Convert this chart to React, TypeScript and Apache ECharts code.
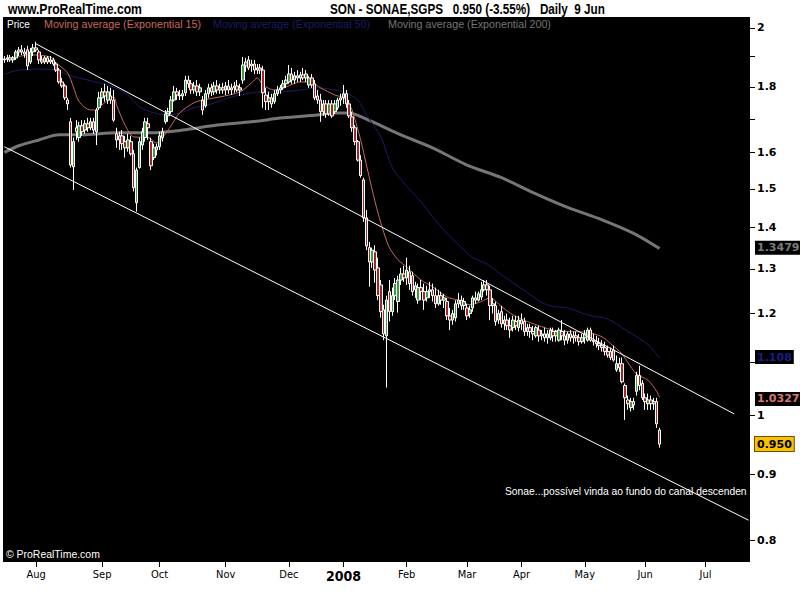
import React, { useEffect, useRef } from 'react';
import * as echarts from 'echarts';

// Trading calendar (Euronext Lisbon closing days inside the range)
const firstSession = '2007-07-17';
const sessionSlots = 260; // traded sessions + empty sessions to the right
const marketHolidays = ['2007-12-25', '2007-12-26', '2008-01-01', '2008-03-21', '2008-03-24', '2008-05-01'];
const monthNames = ['Jan', 'Feb', 'Mar', 'Apr', 'May', 'Jun', 'Jul', 'Aug', 'Sep', 'Oct', 'Nov', 'Dec'];

// SONAE,SGPS daily prices, 17 Jul 2007 - 9 Jun 2008 (one row per month)
const openPrices = [
  1.889, 1.892, 1.896, 1.889, 1.896, 1.916, 1.923, 1.916, 1.923, 1.882, 1.916,
  1.930, 1.916, 1.889, 1.882, 1.896, 1.882, 1.889, 1.875, 1.855, 1.816, 1.803, 1.758, 1.691, 1.560, 1.673, 1.644, 1.679, 1.666, 1.685, 1.673, 1.691, 1.661, 1.734,
  1.765, 1.784, 1.758, 1.771, 1.758, 1.655, 1.637, 1.649, 1.632, 1.614, 1.632, 1.597, 1.463, 1.558, 1.622, 1.644, 1.685, 1.632, 1.586, 1.608,
  1.617, 1.644, 1.691, 1.709, 1.722, 1.758, 1.784, 1.774, 1.771, 1.781, 1.822, 1.810, 1.790, 1.803, 1.784, 1.758, 1.740, 1.778, 1.797, 1.784, 1.803, 1.790, 1.797,
  1.790, 1.803, 1.790, 1.797, 1.803, 1.790, 1.822, 1.869, 1.889, 1.869, 1.875, 1.855, 1.862, 1.855, 1.774, 1.753, 1.765, 1.753, 1.778, 1.790, 1.797, 1.810,
  1.816, 1.842, 1.822, 1.836, 1.829, 1.839, 1.829, 1.806, 1.829, 1.810, 1.771, 1.758, 1.722, 1.746, 1.715, 1.746, 1.722, 1.734, 1.758,
  1.765, 1.778, 1.746, 1.706, 1.673, 1.632, 1.579, 1.524, 1.424, 1.350, 1.316, 1.340, 1.302, 1.263, 1.208, 1.153, 1.248, 1.204, 1.239, 1.226, 1.274, 1.288,
  1.279, 1.293, 1.284, 1.252, 1.229, 1.257, 1.248, 1.234, 1.248, 1.252, 1.239, 1.221, 1.239, 1.229, 1.226, 1.195, 1.186, 1.191, 1.221, 1.229, 1.217,
  1.212, 1.200, 1.212, 1.234, 1.229, 1.236, 1.252, 1.263, 1.252, 1.217, 1.217, 1.186, 1.204, 1.178, 1.186, 1.174, 1.170, 1.183, 1.170,
  1.186, 1.183, 1.162, 1.170, 1.162, 1.153, 1.165, 1.153, 1.157, 1.149, 1.149, 1.162, 1.153, 1.144, 1.162, 1.153, 1.144, 1.157, 1.149, 1.153, 1.149, 1.141,
  1.149, 1.144, 1.165, 1.144, 1.141, 1.137, 1.133, 1.129, 1.121, 1.121, 1.124, 1.085, 1.097, 1.097, 1.055, 1.028, 1.014, 1.025, 1.044, 1.074, 1.059,
  1.032, 1.021, 1.028, 1.021, 1.025, 0.974,
];
const closePrices = [
  1.892, 1.896, 1.889, 1.896, 1.916, 1.923, 1.916, 1.909, 1.869, 1.916, 1.930,
  1.923, 1.889, 1.882, 1.896, 1.882, 1.889, 1.875, 1.855, 1.816, 1.803, 1.765, 1.746, 1.565, 1.632, 1.661, 1.679, 1.661, 1.685, 1.673, 1.691, 1.666, 1.727, 1.765,
  1.784, 1.771, 1.784, 1.758, 1.696, 1.637, 1.649, 1.626, 1.614, 1.637, 1.597, 1.503, 1.551, 1.632, 1.661, 1.691, 1.673, 1.563, 1.614, 1.617,
  1.649, 1.661, 1.715, 1.722, 1.758, 1.784, 1.774, 1.771, 1.778, 1.822, 1.810, 1.790, 1.803, 1.784, 1.797, 1.727, 1.778, 1.797, 1.784, 1.803, 1.790, 1.797, 1.790,
  1.803, 1.790, 1.797, 1.803, 1.790, 1.797, 1.872, 1.882, 1.862, 1.875, 1.855, 1.862, 1.855, 1.781, 1.753, 1.765, 1.746, 1.778, 1.790, 1.797, 1.810, 1.822,
  1.842, 1.822, 1.836, 1.829, 1.839, 1.829, 1.842, 1.829, 1.806, 1.765, 1.758, 1.722, 1.746, 1.715, 1.746, 1.709, 1.746, 1.758, 1.765,
  1.778, 1.746, 1.709, 1.673, 1.632, 1.579, 1.536, 1.424, 1.354, 1.316, 1.344, 1.297, 1.239, 1.204, 1.157, 1.229, 1.204, 1.239, 1.266, 1.274, 1.288, 1.279,
  1.297, 1.266, 1.248, 1.261, 1.257, 1.248, 1.229, 1.248, 1.252, 1.239, 1.221, 1.239, 1.229, 1.234, 1.195, 1.186, 1.200, 1.221, 1.229, 1.217, 1.226,
  1.195, 1.208, 1.234, 1.229, 1.243, 1.252, 1.263, 1.252, 1.217, 1.221, 1.183, 1.200, 1.178, 1.186, 1.174, 1.165, 1.186, 1.174, 1.186,
  1.178, 1.162, 1.170, 1.162, 1.157, 1.170, 1.153, 1.157, 1.149, 1.157, 1.165, 1.153, 1.162, 1.165, 1.153, 1.144, 1.157, 1.149, 1.153, 1.149, 1.141, 1.149,
  1.157, 1.165, 1.144, 1.141, 1.137, 1.133, 1.129, 1.121, 1.114, 1.109, 1.104, 1.097, 1.089, 1.062, 1.032, 1.021, 1.025, 1.019, 1.074, 1.055, 1.032,
  1.025, 1.028, 1.021, 1.025, 0.985, 0.950,
];
const lowPrices = [
  1.879, 1.882, 1.882, 1.879, 1.889, 1.902, 1.906, 1.896, 1.855, 1.875, 1.902,
  1.916, 1.875, 1.875, 1.875, 1.875, 1.875, 1.869, 1.849, 1.810, 1.797, 1.758, 1.727, 1.558, 1.497, 1.637, 1.632, 1.649, 1.655, 1.661, 1.666, 1.655, 1.622, 1.727,
  1.743, 1.753, 1.746, 1.746, 1.691, 1.614, 1.608, 1.608, 1.586, 1.603, 1.592, 1.493, 1.440, 1.555, 1.608, 1.632, 1.637, 1.551, 1.579, 1.592,
  1.608, 1.632, 1.685, 1.691, 1.715, 1.753, 1.758, 1.758, 1.758, 1.771, 1.797, 1.778, 1.778, 1.771, 1.771, 1.712, 1.734, 1.765, 1.771, 1.774, 1.778, 1.778, 1.778,
  1.774, 1.778, 1.774, 1.781, 1.784, 1.771, 1.810, 1.849, 1.855, 1.849, 1.842, 1.842, 1.842, 1.734, 1.727, 1.727, 1.734, 1.746, 1.771, 1.778, 1.790, 1.797,
  1.810, 1.810, 1.810, 1.816, 1.816, 1.822, 1.816, 1.797, 1.797, 1.758, 1.746, 1.691, 1.709, 1.703, 1.709, 1.703, 1.715, 1.727, 1.740,
  1.746, 1.734, 1.703, 1.661, 1.622, 1.575, 1.530, 1.414, 1.344, 1.259, 1.302, 1.268, 1.229, 1.191, 1.144, 1.051, 1.183, 1.195, 1.229, 1.202, 1.263, 1.270,
  1.263, 1.252, 1.239, 1.234, 1.221, 1.229, 1.208, 1.226, 1.234, 1.226, 1.212, 1.217, 1.219, 1.212, 1.186, 1.165, 1.176, 1.183, 1.212, 1.208, 1.208,
  1.186, 1.191, 1.204, 1.221, 1.226, 1.229, 1.248, 1.239, 1.186, 1.200, 1.174, 1.178, 1.170, 1.165, 1.165, 1.149, 1.162, 1.165, 1.162,
  1.165, 1.153, 1.153, 1.149, 1.144, 1.149, 1.141, 1.144, 1.141, 1.137, 1.144, 1.141, 1.141, 1.141, 1.144, 1.134, 1.137, 1.141, 1.137, 1.141, 1.133, 1.137,
  1.137, 1.141, 1.141, 1.133, 1.129, 1.124, 1.121, 1.113, 1.109, 1.104, 1.101, 1.081, 1.081, 1.059, 0.992, 1.010, 1.007, 1.010, 1.036, 1.046, 1.028,
  1.010, 1.010, 1.010, 1.010, 0.978, 0.944,
];
const highPrices = [
  1.902, 1.906, 1.906, 1.902, 1.923, 1.933, 1.940, 1.930, 1.937, 1.930, 1.944,
  1.951, 1.923, 1.902, 1.902, 1.902, 1.902, 1.896, 1.882, 1.862, 1.829, 1.810, 1.765, 1.703, 1.644, 1.696, 1.691, 1.696, 1.696, 1.703, 1.703, 1.703, 1.734, 1.784,
  1.797, 1.810, 1.803, 1.797, 1.790, 1.673, 1.661, 1.666, 1.649, 1.655, 1.649, 1.608, 1.558, 1.644, 1.673, 1.703, 1.703, 1.644, 1.626, 1.626,
  1.661, 1.673, 1.727, 1.734, 1.771, 1.803, 1.797, 1.790, 1.790, 1.836, 1.836, 1.822, 1.816, 1.822, 1.810, 1.771, 1.790, 1.810, 1.810, 1.816, 1.822, 1.810, 1.813,
  1.816, 1.822, 1.810, 1.816, 1.822, 1.810, 1.899, 1.896, 1.902, 1.889, 1.889, 1.875, 1.875, 1.869, 1.797, 1.784, 1.778, 1.790, 1.803, 1.806, 1.822, 1.836,
  1.872, 1.862, 1.849, 1.855, 1.849, 1.862, 1.855, 1.836, 1.842, 1.822, 1.790, 1.778, 1.758, 1.758, 1.758, 1.758, 1.758, 1.765, 1.778,
  1.806, 1.790, 1.758, 1.722, 1.681, 1.637, 1.593, 1.530, 1.444, 1.364, 1.350, 1.356, 1.326, 1.274, 1.219, 1.239, 1.274, 1.257, 1.279, 1.284, 1.302, 1.307,
  1.326, 1.307, 1.293, 1.270, 1.266, 1.274, 1.266, 1.261, 1.270, 1.266, 1.257, 1.252, 1.248, 1.243, 1.234, 1.212, 1.208, 1.229, 1.245, 1.239, 1.234,
  1.221, 1.217, 1.239, 1.248, 1.248, 1.270, 1.274, 1.274, 1.261, 1.234, 1.226, 1.208, 1.217, 1.195, 1.200, 1.191, 1.195, 1.195, 1.195,
  1.200, 1.191, 1.178, 1.178, 1.174, 1.174, 1.174, 1.165, 1.170, 1.165, 1.170, 1.170, 1.165, 1.170, 1.186, 1.165, 1.162, 1.165, 1.162, 1.162, 1.157, 1.157,
  1.165, 1.170, 1.170, 1.157, 1.153, 1.149, 1.144, 1.141, 1.133, 1.129, 1.133, 1.113, 1.109, 1.109, 1.059, 1.036, 1.032, 1.032, 1.081, 1.093, 1.065,
  1.040, 1.040, 1.036, 1.032, 1.032, 0.978,
];

// Exponential moving averages, [session index, value]
const ema15Points: [number, number][] = [
  [0, 1.889], [9, 1.906], [16, 1.899], [18, 1.879], [22, 1.845], [24, 1.800], [26, 1.753], [30, 1.727], [32, 1.727],
  [34, 1.743], [38, 1.768], [39, 1.743], [42, 1.681], [45, 1.646], [50, 1.644], [53, 1.628], [55, 1.644], [58, 1.679],
  [61, 1.718], [66, 1.750], [69, 1.758], [75, 1.768], [82, 1.784], [86, 1.813], [88, 1.829], [90, 1.806], [94, 1.790],
  [98, 1.800], [103, 1.816], [107, 1.813], [110, 1.797], [115, 1.774], [118, 1.765], [120, 1.743], [121, 1.727],
  [124, 1.637], [126, 1.565], [128, 1.497], [130, 1.437], [132, 1.388], [134, 1.350], [137, 1.321], [140, 1.304],
  [145, 1.274], [149, 1.259], [154, 1.236], [158, 1.229], [162, 1.219], [166, 1.226], [169, 1.234], [173, 1.215],
  [177, 1.197], [182, 1.183], [187, 1.172], [191, 1.165], [196, 1.162], [203, 1.160], [208, 1.151], [211, 1.137],
  [215, 1.116], [217, 1.099], [220, 1.077], [224, 1.065], [227, 1.044], [228, 1.0327],
];
const ema50Points: [number, number][] = [
  [0, 1.842], [5, 1.855], [13, 1.858], [18, 1.855], [22, 1.839], [29, 1.822], [33, 1.813], [38, 1.800], [43, 1.774],
  [47, 1.737], [52, 1.718], [57, 1.712], [61, 1.718], [66, 1.734], [71, 1.743], [78, 1.765], [82, 1.774], [89, 1.784],
  [96, 1.784], [103, 1.790], [109, 1.797], [115, 1.790], [119, 1.781], [123, 1.758], [126, 1.712], [131, 1.646],
  [135, 1.558], [140, 1.507], [145, 1.465], [149, 1.427], [154, 1.385], [159, 1.351], [163, 1.326], [168, 1.311],
  [173, 1.286], [177, 1.268], [182, 1.246], [187, 1.224], [191, 1.215], [196, 1.212], [203, 1.197], [210, 1.188],
  [217, 1.162], [224, 1.135], [228, 1.108],
];
const ema200Points: [number, number][] = [
  [0, 1.601], [5, 1.620], [12, 1.637], [19, 1.652], [27, 1.652], [39, 1.658], [51, 1.658], [62, 1.666], [74, 1.681],
  [86, 1.691], [97, 1.703], [109, 1.712], [115, 1.718], [120, 1.718], [126, 1.699], [138, 1.652], [149, 1.614],
  [161, 1.565], [173, 1.530], [184, 1.490], [196, 1.451], [208, 1.419], [219, 1.385], [228, 1.3479],
];

// Descending channel drawn on the price pane, [session index, price]
const upperChannel: [number, number][] = [[11, 1.944], [254, 1.0027]];
const lowerChannel: [number, number][] = [[0, 1.617], [259, 0.829]];

// Price scale
const priceMin = 0.7693;
const priceMax = 2.0397;
const priceTicks = [0.8, 0.9, 1, 1.1, 1.2, 1.3, 1.4, 1.5, 1.6, 1.7, 1.8, 1.9, 2];
const priceLabels = [0.8, 0.9, 1, 1.2, 1.3, 1.4, 1.5, 1.6, 1.8, 2];

const SANS = '"Liberation Sans", Arial, sans-serif';
const CONDENSED = '"DejaVu Sans Condensed", "Liberation Sans", sans-serif';
const BOLD_AXIS = '"DejaVu Sans", Verdana, sans-serif';
const EMA15_COLOR = '#c8685c';
const EMA50_COLOR = '#1c1c66';
const EMA200_COLOR = '#767676';

function buildSessions(): string[] {
  const out: string[] = [];
  const [y, m, d] = firstSession.split('-').map(Number);
  const day = new Date(Date.UTC(y, m - 1, d));
  while (out.length < sessionSlots) {
    const wd = day.getUTCDay();
    const iso = day.toISOString().slice(0, 10);
    if (wd !== 0 && wd !== 6 && !marketHolidays.includes(iso)) out.push(iso);
    day.setUTCDate(day.getUTCDate() + 1);
  }
  return out;
}

// Horizontal squeeze that gives a narrow look to a regular font
function squeeze(text: string, font: string, width: number): number {
  const ctx = document.createElement('canvas').getContext('2d');
  if (!ctx) return 1;
  ctx.font = font;
  const w = ctx.measureText(text).width;
  return w > 0 ? Math.min(1, width / w) : 1;
}

function caption(text: string, x: number, y: number, fill: string, font: string, width: number) {
  return {
    type: 'text',
    x,
    y,
    z: 10,
    scaleX: squeeze(text, font, width),
    style: { text, fill, font, verticalAlign: 'middle', textVerticalAlign: 'middle' },
  };
}

function tagLine(value: number, text: string, fg: string, bg: string, border?: string) {
  return {
    yAxis: value,
    lineStyle: { color: 'rgba(0,0,0,0)', width: 0 },
    label: {
      show: true,
      position: 'end',
      distance: 5,
      formatter: text,
      color: fg,
      backgroundColor: bg,
      borderColor: border || bg,
      borderWidth: border ? 1 : 0,
      padding: [2, 2, 1, 2],
      fontFamily: BOLD_AXIS,
      fontWeight: 'bold',
      fontSize: 11,
    },
  };
}

export default function App() {
  const ref = useRef<HTMLDivElement>(null);

  useEffect(() => {
    if (!ref.current) return;
    const chart = echarts.init(ref.current, undefined, { renderer: 'svg' });
    const sessions = buildSessions();
    const isMonthStart = (index: number) =>
      index > 0 && sessions[index].slice(5, 7) !== sessions[index - 1].slice(5, 7);

    const candles = openPrices.map((o, i) => [o, closePrices[i], lowPrices[i], highPrices[i]]);
    const lastClose = closePrices[closePrices.length - 1];
    const ema15Last = ema15Points[ema15Points.length - 1][1];
    const ema50Last = ema50Points[ema50Points.length - 1][1];
    const ema200Last = ema200Points[ema200Points.length - 1][1];

    const emaSeries = (name: string, pts: [number, number][], color: string, width: number, last: number, tagColor: string) => ({
      name,
      type: 'line',
      data: pts,
      showSymbol: false,
      symbol: 'none',
      smooth: 0.3,
      silent: true,
      z: 2,
      lineStyle: { color, width },
      markLine: {
        silent: true,
        symbol: ['none', 'none'],
        data: [tagLine(last, String(last), tagColor, '#000')],
      },
    });

    const headerFont = `bold 14px ${SANS}`;
    const legendFont = `11px ${SANS}`;

    const option: any = {
      animation: false,
      backgroundColor: '#ffffff',
      grid: { left: 3, right: 50, top: 17, bottom: 38, show: true, backgroundColor: '#000000', borderWidth: 0 },
      xAxis: {
        type: 'category',
        data: sessions,
        boundaryGap: true,
        axisLine: { show: false },
        axisTick: { show: true, alignWithLabel: true, interval: isMonthStart, length: 5, lineStyle: { color: '#000' } },
        axisLabel: {
          interval: isMonthStart,
          margin: 7,
          color: '#000',
          fontFamily: CONDENSED,
          fontSize: 11,
          formatter: (v: string) => {
            const mi = Number(v.slice(5, 7)) - 1;
            return mi === 0 ? `{y|${v.slice(0, 4)}}` : monthNames[mi];
          },
          rich: { y: { fontFamily: CONDENSED, fontWeight: 'bold', fontSize: 14, color: '#000' } },
        },
        splitLine: { show: false },
      },
      yAxis: {
        type: 'log',
        logBase: 10,
        position: 'right',
        min: priceMin,
        max: priceMax,
        axisLine: { show: false },
        axisTick: { show: true, customValues: priceTicks, length: 5, lineStyle: { color: '#000' } },
        axisLabel: {
          customValues: priceLabels,
          margin: 7,
          color: '#000',
          fontFamily: BOLD_AXIS,
          fontWeight: 'bold',
          fontSize: 11,
          formatter: (v: number) => String(+Number(v).toFixed(2)),
        },
        splitLine: { show: false },
      },
      series: [
        emaSeries('Moving average (Exponential 200)', ema200Points, EMA200_COLOR, 3, ema200Last, '#7a7a7a'),
        emaSeries('Moving average (Exponential 50)', ema50Points, EMA50_COLOR, 1, ema50Last, '#1c1c80'),
        emaSeries('Moving average (Exponential 15)', ema15Points, EMA15_COLOR, 1, ema15Last, '#d87870'),
        {
          name: 'Price',
          type: 'candlestick',
          data: candles,
          barWidth: 3,
          silent: true,
          z: 3,
          itemStyle: {
            color: '#3f9a3f',
            color0: '#a42424',
            borderColor: '#ffffff',
            borderColor0: '#ffffff',
            borderWidth: 1,
          },
          markLine: {
            silent: true,
            symbol: ['none', 'none'],
            label: { show: false },
            lineStyle: { color: '#ffffff', width: 1, type: 'solid' },
            data: [
              [
                { coord: [sessions[upperChannel[0][0]], upperChannel[0][1]] },
                { coord: [sessions[upperChannel[1][0]], upperChannel[1][1]] },
              ],
              [
                { coord: [sessions[lowerChannel[0][0]], lowerChannel[0][1]] },
                { coord: [sessions[lowerChannel[1][0]], lowerChannel[1][1]] },
              ],
              tagLine(lastClose, lastClose.toFixed(3), '#000', '#f8c000', '#6a5000'),
            ],
          },
        },
      ],
      graphic: [
        caption('www.ProRealTime.com', 8, 9, '#000', headerFont, 134),
        caption('SON - SONAE,SGPS   0.950 (-3.55%)   Daily  9 Jun', 330, 9, '#000', headerFont, 275),
        caption('Price', 7, 24, '#ffffff', legendFont, 23),
        caption('Moving average (Exponential 15)', 44, 24, EMA15_COLOR, legendFont, 157),
        caption('Moving average (Exponential 50)', 213, 24, EMA50_COLOR, legendFont, 157),
        caption('Moving average (Exponential 200)', 388, 24, EMA200_COLOR, legendFont, 163),
        caption('© ProRealTime.com', 6, 554, '#ffffff', legendFont, 94),
        {
          type: 'text', x: 505, y: 491, z: 10,
          style: {
            text: 'Sonae...possível vinda ao fundo do canal descendente',
            fill: '#ffffff', font: `10.3px ${SANS}`,
            width: 244, overflow: 'truncate', ellipsis: '',
            verticalAlign: 'middle', textVerticalAlign: 'middle',
          },
        },
      ],
    };

    chart.setOption(option);
    return () => chart.dispose();
  }, []);

  return <div ref={ref} style={{ position: 'absolute', left: 0, top: 0, width: 800, height: 600 }} />;
}
